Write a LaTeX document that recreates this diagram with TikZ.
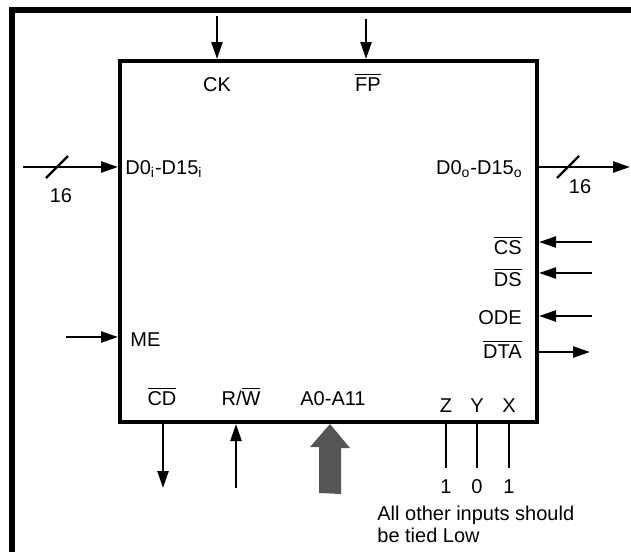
\documentclass[tikz,border=0pt]{standalone}
\usepackage{fontspec}
\setmainfont{Liberation Sans}
\usetikzlibrary{arrows.meta}
\definecolor{busgray}{HTML}{555555}
\newcommand{\ovl}[1]{$\overline{\mbox{#1}}$}
\begin{document}
\begin{tikzpicture}[x=0.5pt,y=-0.5pt,font=\fontsize{10}{11}\selectfont,
  lbl/.style={inner sep=0pt,anchor=base},
  sig/.style={line width=1.2pt,-{Triangle[length=8.5pt,width=5.5pt]}},
  tie/.style={line width=1.2pt},
  bus/.style={fill=busgray}]
\useasboundingbox (0,0) rectangle (631,552);
\draw[line width=3pt] (12,552) -- (12,10) -- (631,10);
\node[draw,line width=2pt,inner sep=0pt,minimum width=208.5pt,minimum height=180.5pt] (chip) at (328.5,241.5) {};
\node[lbl] (ck) at (217,91) {CK};
\node[lbl] (fp) at (368,91) {\ovl{FP}};
\node[lbl,anchor=base west] (din) at (125,174) {D0\textsubscript{i}-D15\textsubscript{i}};
\node[lbl,anchor=base east] (dout) at (523,174) {D0\textsubscript{o}-D15\textsubscript{o}};
\node[lbl,anchor=base east] (cs) at (522,254) {\ovl{CS}};
\node[lbl,anchor=base east] (ds) at (522,286) {\ovl{DS}};
\node[lbl,anchor=base east] (ode) at (522,324) {ODE};
\node[lbl,anchor=base east] (dta) at (522,358) {\ovl{DTA}};
\node[lbl,anchor=base west] (me) at (130,346) {ME};
\node[lbl] (cd) at (162,405) {\ovl{CD}};
\node[lbl] (rw) at (241,405) {R/\ovl{W}};
\node[lbl] (addr) at (333,405) {A0-A11};
\node[lbl] (lz) at (446,412) {Z};
\node[lbl] (ly) at (477,412) {Y};
\node[lbl] (lx) at (509,412) {X};
\node[lbl] (vz) at (446,493) {1};
\node[lbl] (vy) at (477,493) {0};
\node[lbl] (vx) at (509,493) {1};
\node[lbl,anchor=base west,align=left] (note) at (377,542) {All other inputs should\\be tied Low};
\node[lbl] (nin) at (61,202) {16};
\node[lbl] (nout) at (580,193) {16};
\coordinate (ckin) at (217,16);
\coordinate (fpin) at (366,19);
\coordinate (dinin) at (23,167);
\coordinate (doutout) at (630,167);
\coordinate (csin) at (592,242);
\coordinate (dsin) at (592,273);
\coordinate (odein) at (592,316);
\coordinate (dtaout) at (590,352);
\coordinate (mein) at (66,337);
\coordinate (cdout) at (163,488);
\coordinate (rwin) at (236,488);
\coordinate (addrin) at (330,493);
\draw[sig] (ckin) -- (ckin |- chip.north);
\draw[sig] (fpin) -- (fpin |- chip.north);
\draw[sig] (dinin) -- (dinin -| chip.west);
\draw[sig] (doutout -| chip.east) -- (doutout);
\draw[sig] (csin) -- (csin -| chip.east);
\draw[sig] (dsin) -- (dsin -| chip.east);
\draw[sig] (odein) -- (odein -| chip.east);
\draw[sig] (dtaout -| chip.east) -- (dtaout);
\draw[sig] (mein) -- (mein -| chip.west);
\draw[sig] (chip.south -| cdout) -- (cdout);
\draw[sig] (rwin) -- (rwin |- chip.south);
\fill[bus] (addrin) ++(-11,0) -- ++(0,-46) -- ++(-9,0) -- (chip.south -| addrin) -- ++(20,24) -- ++(-9,0) -- ++(0,46) -- cycle;
\draw[tie,shorten >=5.4pt] (chip.south -| lz) -- (vz.north);
\draw[tie,shorten >=5.4pt] (chip.south -| ly) -- (vy.north);
\draw[tie,shorten >=5.4pt] (chip.south -| lx) -- (vx.north);
\draw[tie] (57,167) ++(-11,11) -- ++(22,-22);
\draw[tie] (568,167) ++(-11,11) -- ++(22,-22);
\end{tikzpicture}
\end{document}
